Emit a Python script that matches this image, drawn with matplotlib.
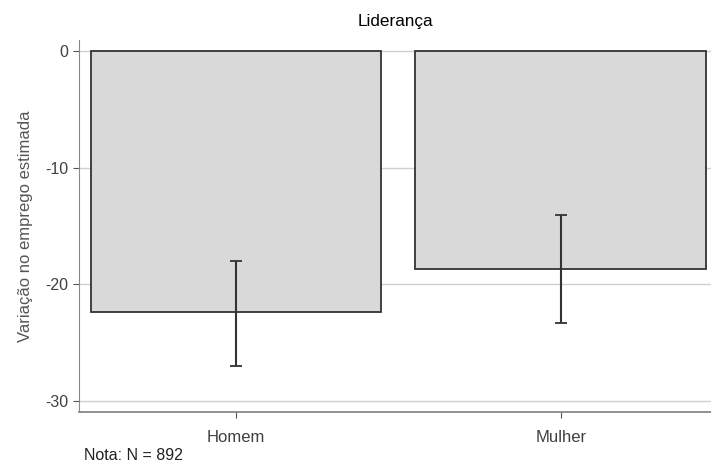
import matplotlib.pyplot as plt
import numpy as np

plt.rcParams['font.family'] = ['Liberation Sans', 'DejaVu Sans']

categories = ['Homem', 'Mulher']
estimates = [-22.4, -18.7]
ci_low = [-27.0, -23.3]
ci_high = [-18.0, -14.1]

fig = plt.figure(figsize=(7.11, 4.68), dpi=100)
ax = fig.add_axes([79/711, 56/468, 632/711, 372/468])

x = np.arange(len(categories))
est = np.array(estimates)
yerr = [est - np.array(ci_low), np.array(ci_high) - est]

ax.bar(x, est, width=0.895, color='#d9d9d9', edgecolor='#333333', linewidth=1.3, zorder=2)
ax.errorbar(x, est, yerr=yerr, fmt='none', ecolor='#333333', elinewidth=1.5,
            capsize=4, capthick=1.3, zorder=3)

ax.set_xlim(-0.483, 1.462)
ax.set_ylim(-30.94, 0.94)
ax.set_yticks([0, -10, -20, -30])
ax.set_yticklabels(['0', '-10', '-20', '-30'])
ax.set_xticks(x)
ax.set_xticklabels(categories)
ax.yaxis.grid(True, color='#d0d0d0', linewidth=1, zorder=0)
ax.set_axisbelow(True)

for s in ['top', 'right']:
    ax.spines[s].set_visible(False)
for s in ['left', 'bottom']:
    ax.spines[s].set_color('#888888')
ax.spines['bottom'].set_linewidth(1.3)
ax.tick_params(axis='both', colors='#555555', labelcolor='#404040', length=4)
ax.tick_params(axis='y', labelsize=11.5)
ax.tick_params(axis='x', labelsize=12, pad=9)

ax.set_ylabel('Variação no emprego estimada', fontsize=12, color='#555555', labelpad=9)
ax.set_title('Liderança', fontsize=12.3, pad=10)
fig.text(84/711, 1 - 455/468, 'Nota: N = 892', fontsize=11.5, color='#222222', va='center')

plt.savefig('out.png')
